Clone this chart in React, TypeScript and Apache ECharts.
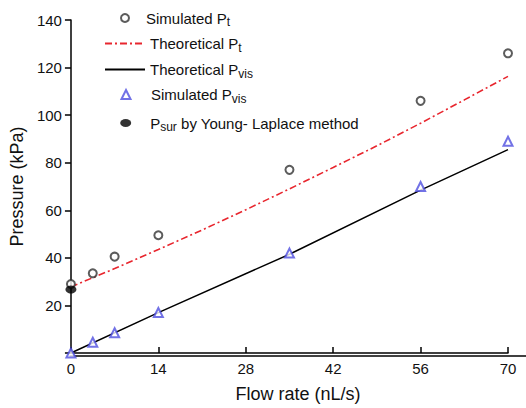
import { useEffect, useRef } from 'react';
import * as echarts from 'echarts';

const FONT = '"Liberation Sans", Arial, Helvetica, sans-serif';

// Simulated data (flow rate in nL/s)
const flowSim = [0, 3.5, 7, 14, 35, 56, 70];
const simPt = [29, 33.5, 40.5, 49.5, 77, 106, 126];
const simPvis = [0, 4.5, 8.5, 17, 42, 70, 89];

// Theoretical curves
const theoPtX = [0, 7, 14, 21, 28, 35, 42, 49, 56, 63, 70];
const theoPt = [27.8, 35.5, 43.5, 51.7, 60.2, 69, 78, 87.1, 96.6, 106.4, 116.3];
const theoPvisX = [0, 14, 35, 56, 70];
const theoPvis = [0, 17, 41.5, 68.5, 85.5];

// Young-Laplace surface pressure
const psurX = [0];
const psurY = [26.7];

// Axis ticks
const xTicks = { min: 0, max: 70, interval: 14 };
const yTicks = { min: 0, max: 140, interval: 20 };

const zip = (xs: number[], ys: number[]) => xs.map((x, i) => [x, ys[i]]);

const legendNames: Record<string, string> = {
  'Simulated Pt': '{n|Simulated P}{s|t}',
  'Theoretical Pt': '{n|Theoretical P}{s|t}',
  'Theoretical Pvis': '{n|Theoretical P}{s|vis}',
  'Simulated Pvis': '{n|Simulated P}{s|vis}',
  'Psur by Young- Laplace method': '{n|P}{s|sur}{n| by Young- Laplace method}',
};

const legendRows: any[] = [
  { name: 'Simulated Pt', top: 10.5, left: 120, w: 8, h: 8, pad: 12 },
  { name: 'Theoretical Pt', top: 36, left: 104, w: 40, h: 8, pad: 0, line: true },
  { name: 'Theoretical Pvis', top: 62, left: 104, w: 40, h: 8, pad: 0, line: true },
  { name: 'Simulated Pvis', top: 87, left: 120.5, w: 9, h: 9, pad: 15.5 },
  { name: 'Psur by Young- Laplace method', top: 115.5, left: 120.2, w: 11, h: 8, pad: 14, icon: 'path://M0,4A5.5,4,0,1,1,11,4A5.5,4,0,1,1,0,4Z' },
];

const axisColor = '#000';
const textColor = '#111';

export default function App() {
  const ref = useRef<HTMLDivElement>(null);
  useEffect(() => {
    const chart = echarts.init(ref.current!, null, { renderer: 'svg' });
    const option: any = {
      animation: false,
      backgroundColor: '#fff',
      grid: [
        { left: 70, right: 18, top: 20, bottom: 52 },
        { left: 70, right: 0, top: 20, bottom: 52 },
      ],
      legend: legendRows.map((r) => {
        const l: any = {
          data: [r.icon ? { name: r.name, icon: r.icon } : r.name],
          left: r.left,
          top: r.top,
          orient: 'vertical',
          padding: 0,
          itemGap: 0,
          itemWidth: r.w,
          itemHeight: r.h,
          selectedMode: false,
          formatter: (name: string) => legendNames[name] || name,
          textStyle: {
            fontFamily: FONT,
            fontSize: 15,
            color: textColor,
            padding: [0, 0, 0, r.pad],
            rich: {
              n: { fontFamily: FONT, fontSize: 15, lineHeight: 20, color: textColor },
              s: { fontFamily: FONT, fontSize: 12, lineHeight: 20, verticalAlign: 'bottom', color: textColor },
            },
          },
        };
        if (r.line) l.itemStyle = { opacity: 0, borderWidth: 0 };
        return l;
      }),
      xAxis: [
        {
          type: 'value',
          gridIndex: 0,
          min: xTicks.min,
          max: xTicks.max,
          interval: xTicks.interval,
          name: 'Flow rate (nL/s)',
          nameLocation: 'middle',
          nameGap: 32,
          nameTextStyle: { fontFamily: FONT, fontSize: 18, color: textColor, padding: [0, 0, 0, 17] },
          axisLine: { show: true, lineStyle: { color: axisColor, width: 1.5 } },
          axisTick: { show: true, inside: true, length: 6, lineStyle: { color: axisColor, width: 1.5 } },
          axisLabel: { margin: 8, fontFamily: FONT, fontSize: 15, color: textColor },
          splitLine: { show: false },
        },
        {
          type: 'value',
          gridIndex: 1,
          min: 0,
          max: 1,
          axisLine: { show: true, lineStyle: { color: axisColor, width: 1.5 } },
          axisTick: { show: false },
          axisLabel: { show: false },
          splitLine: { show: false },
        },
      ],
      yAxis: [
        {
          type: 'value',
          gridIndex: 0,
          min: yTicks.min,
          max: yTicks.max,
          interval: yTicks.interval,
          name: 'Pressure (kPa)',
          nameLocation: 'middle',
          nameGap: 39,
          nameTextStyle: { fontFamily: FONT, fontSize: 18, color: textColor },
          axisLine: { show: true, lineStyle: { color: axisColor, width: 1.5 } },
          axisTick: { show: true, inside: false, length: 6, lineStyle: { color: axisColor, width: 1.5 } },
          axisLabel: {
            margin: 9,
            fontFamily: FONT,
            fontSize: 15,
            color: textColor,
            formatter: (v: number) => (v === 0 ? '' : String(v)),
          },
          splitLine: { show: false },
        },
        { type: 'value', gridIndex: 1, min: 0, max: 1, show: false },
      ],
      series: [
        {
          name: 'Simulated Pt',
          type: 'scatter',
          xAxisIndex: 0,
          yAxisIndex: 0,
          data: zip(flowSim, simPt),
          symbol: 'emptyCircle',
          symbolSize: 8,
          clip: false,
          itemStyle: { color: '#333', borderWidth: 1.1 },
          z: 3,
        },
        {
          name: 'Theoretical Pt',
          type: 'line',
          xAxisIndex: 0,
          yAxisIndex: 0,
          data: zip(theoPtX, theoPt),
          symbol: 'none',
          showSymbol: false,
          color: '#e8262e',
          lineStyle: { color: '#e8262e', width: 1.6, type: [7, 3, 2, 3] },
          z: 2,
        },
        {
          name: 'Theoretical Pvis',
          type: 'line',
          xAxisIndex: 0,
          yAxisIndex: 0,
          data: zip(theoPvisX, theoPvis),
          symbol: 'none',
          showSymbol: false,
          color: '#000',
          lineStyle: { color: '#000', width: 1.5 },
          z: 2,
        },
        {
          name: 'Simulated Pvis',
          type: 'scatter',
          xAxisIndex: 0,
          yAxisIndex: 0,
          data: zip(flowSim, simPvis),
          symbol: 'emptyTriangle',
          symbolSize: 9,
          clip: false,
          itemStyle: { color: '#4f4fe0', borderWidth: 1 },
          z: 3,
        },
        {
          name: 'Psur by Young- Laplace method',
          type: 'scatter',
          xAxisIndex: 0,
          yAxisIndex: 0,
          data: zip(psurX, psurY),
          symbol: 'circle',
          symbolSize: [11, 8],
          clip: false,
          itemStyle: { color: '#000' },
          z: 5,
        },
      ],
    };
    chart.setOption(option);
    return () => chart.dispose();
  }, []);
  return <div ref={ref} style={{ position: 'fixed', left: 0, top: 0, width: 526, height: 408 }} />;
}
